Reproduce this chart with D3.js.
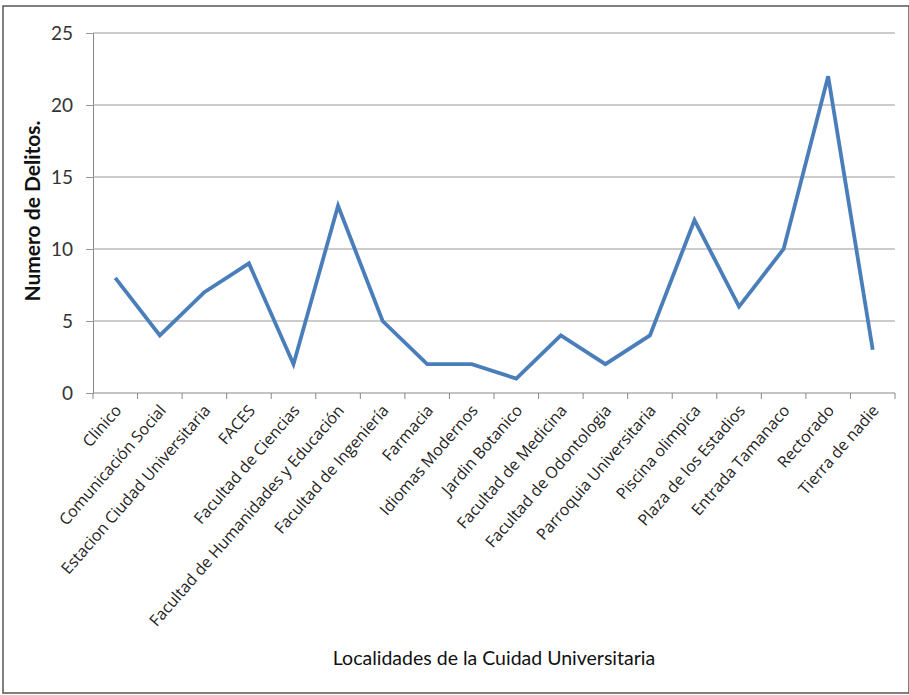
<!DOCTYPE html>
<html>
<head>
<meta charset="utf-8">
<script src="https://cdn.jsdelivr.net/npm/d3@7"></script>
<style>
  body { margin: 0; background: #fff; }
  svg { display: block; }
</style>
</head>
<body>
<div id="chart"></div>
<script>
// categories and values
var localidades = ["Clinico", "Comunicación Social", "Estacion Ciudad Universitaria", "FACES",
    "Facultad de Ciencias", "Facultad de Humanidades y Educación", "Facultad de Ingeniería",
    "Farmacia", "Idiomas Modernos", "Jardin Botanico", "Facultad de Medicina",
    "Facultad de Odontologia", "Parroquia Universitaria", "Piscina olimpica",
    "Plaza de los Estadios", "Entrada Tamanaco", "Rectorado", "Tierra de nadie"];
var delitos = [8, 4, 7, 9, 2, 13, 5, 2, 2, 1, 4, 2, 4, 12, 6, 10, 22, 3];
var yTicks = [0, 5, 10, 15, 20, 25];

var width = 909, height = 695;
var margin = { top: 33, right: 14, bottom: 302, left: 93 };
var font = "Lato, 'Open Sans', sans-serif";
var labelFont = "Open Sans";

var svg = d3.select("#chart").append("svg")
    .attr("width", width)
    .attr("height", height);

// outer frame
svg.append("rect")
    .attr("x", 3).attr("y", 6)
    .attr("width", width - 3).attr("height", height - 8)
    .attr("fill", "none")
    .attr("stroke", "#555")
    .attr("stroke-width", 1.5);

var x = d3.scaleBand()
    .domain(localidades)
    .range([margin.left, width - margin.right]);

var y = d3.scaleLinear()
    .domain([0, 25])
    .range([height - margin.bottom, margin.top]);

// gridlines + y axis
var yAxis = svg.append("g")
    .attr("transform", "translate(" + margin.left + ",0)")
    .call(d3.axisLeft(y).tickValues(yTicks).tickSize(7).tickPadding(13));
yAxis.select(".domain").attr("stroke", "#888");
yAxis.selectAll(".tick line").attr("stroke", "#999");
yAxis.selectAll(".tick text")
    .attr("fill", "#333")
    .style("font-family", font)
    .style("font-size", "19px");

svg.append("g")
    .selectAll("line")
    .data(yTicks.filter(function (d) { return d > 0; }))
    .enter().append("line")
    .attr("x1", margin.left)
    .attr("x2", width - margin.right)
    .attr("y1", function (d) { return y(d); })
    .attr("y2", function (d) { return y(d); })
    .attr("stroke", "#999")
    .attr("stroke-width", 1.2);

// x axis: ticks at band edges
var xAxis = svg.append("g")
    .attr("transform", "translate(0," + y(0) + ")");
xAxis.append("line")
    .attr("x1", margin.left).attr("x2", width - margin.right)
    .attr("stroke", "#888").attr("stroke-width", 1.2);
var edges = localidades.map(function (d) { return x(d); }).concat([x.range()[1]]);
xAxis.selectAll(".edge")
    .data(edges)
    .enter().append("line")
    .attr("class", "edge")
    .attr("x1", function (d) { return d; })
    .attr("x2", function (d) { return d; })
    .attr("y1", 0).attr("y2", 6)
    .attr("stroke", "#888");

xAxis.selectAll("text")
    .data(localidades)
    .enter().append("text")
    .attr("transform", function (d) {
        return "translate(" + (x(d) + x.bandwidth() / 2 + 7) + ",18) rotate(-49)";
    })
    .attr("text-anchor", "end")
    .attr("fill", "#222")
    .attr("font-family", labelFont)
    .attr("font-size", 16)
    .text(function (d) { return d; });

// line
var line = d3.line()
    .x(function (d, i) { return x(localidades[i]) + x.bandwidth() / 2; })
    .y(function (d) { return y(d); });

svg.append("path")
    .datum(delitos)
    .attr("d", line)
    .attr("fill", "none")
    .attr("stroke", "#4a7ebb")
    .attr("stroke-width", 3.8)
    .attr("stroke-linejoin", "miter");

// axis titles
svg.append("text")
    .attr("transform", "translate(40,211) rotate(-90)")
    .attr("text-anchor", "middle")
    .style("font-family", font)
    .style("font-weight", "bold")
    .style("font-size", "21px")
    .attr("fill", "#111")
    .text("Numero de Delitos.");

svg.append("text")
    .attr("x", 494)
    .attr("y", 665)
    .attr("text-anchor", "middle")
    .style("font-family", font)
    .style("font-size", "19.5px")
    .attr("fill", "#111")
    .text("Localidades de la Cuidad Universitaria");
</script>
</body>
</html>
